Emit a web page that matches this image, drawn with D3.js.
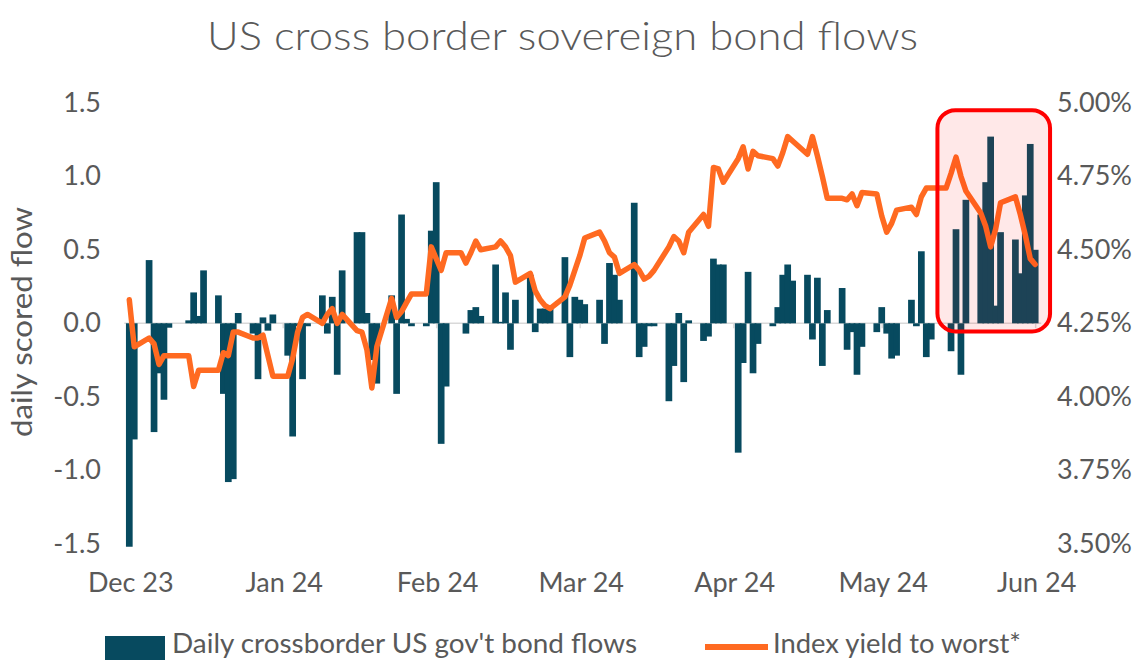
<!DOCTYPE html>
<html>
<head>
<meta charset="utf-8">
<script src="https://cdn.jsdelivr.net/npm/d3@7"></script>
<style>
  body { margin: 0; background: #fff; }
  svg text { font-family: Lato, "Open Sans", sans-serif; }
</style>
</head>
<body>
<div id="chart"></div>
<script>
// business days, daily scored flow (left axis) and index yield to worst in % (right axis)
const flowDates = [
  "2023-11-30", "2023-12-01", "2023-12-04", "2023-12-05", "2023-12-06", "2023-12-07", "2023-12-08",
  "2023-12-11", "2023-12-12", "2023-12-13", "2023-12-14", "2023-12-15",
  "2023-12-18", "2023-12-19", "2023-12-20", "2023-12-21", "2023-12-22",
  "2023-12-25", "2023-12-26", "2023-12-27", "2023-12-28", "2023-12-29",
  "2024-01-01", "2024-01-02", "2024-01-03", "2024-01-04", "2024-01-05",
  "2024-01-08", "2024-01-09", "2024-01-10", "2024-01-11", "2024-01-12",
  "2024-01-15", "2024-01-16", "2024-01-17", "2024-01-18", "2024-01-19",
  "2024-01-22", "2024-01-23", "2024-01-24", "2024-01-25", "2024-01-26",
  "2024-01-29", "2024-01-30", "2024-01-31", "2024-02-01", "2024-02-02",
  "2024-02-05", "2024-02-06", "2024-02-07", "2024-02-08", "2024-02-09",
  "2024-02-12", "2024-02-13", "2024-02-14", "2024-02-15", "2024-02-16",
  "2024-02-19", "2024-02-20", "2024-02-21", "2024-02-22", "2024-02-23",
  "2024-02-26", "2024-02-27", "2024-02-28", "2024-02-29", "2024-03-01",
  "2024-03-04", "2024-03-05", "2024-03-06", "2024-03-07", "2024-03-08",
  "2024-03-11", "2024-03-12", "2024-03-13", "2024-03-14", "2024-03-15",
  "2024-03-18", "2024-03-19", "2024-03-20", "2024-03-21", "2024-03-22",
  "2024-03-25", "2024-03-26", "2024-03-27", "2024-03-28", "2024-03-29",
  "2024-04-01", "2024-04-02", "2024-04-03", "2024-04-04", "2024-04-05",
  "2024-04-08", "2024-04-09", "2024-04-10", "2024-04-11", "2024-04-12",
  "2024-04-15", "2024-04-16", "2024-04-17", "2024-04-18", "2024-04-19",
  "2024-04-22", "2024-04-23", "2024-04-24", "2024-04-25", "2024-04-26",
  "2024-04-29", "2024-04-30", "2024-05-01", "2024-05-02", "2024-05-03",
  "2024-05-06", "2024-05-07", "2024-05-08", "2024-05-09", "2024-05-10",
  "2024-05-13", "2024-05-14", "2024-05-15", "2024-05-16", "2024-05-17",
  "2024-05-20", "2024-05-21", "2024-05-22", "2024-05-23", "2024-05-24",
  "2024-05-27", "2024-05-28", "2024-05-29", "2024-05-30", "2024-05-31"
];

const flowValues = [
  -1.52, -0.79, 0.43, -0.74, -0.34, -0.52, -0.03,
  0.00, 0.02, 0.21, 0.05, 0.36,
  0.19, -0.48, -1.08, -1.06, 0.07,
  -0.07, -0.38, 0.04, -0.05, 0.06,
  -0.22, -0.77, -0.02, -0.38, -0.02,
  0.19, -0.07, 0.18, -0.35, 0.36,
  0.62, 0.62, 0.07, -0.25, -0.41,
  0.19, -0.48, 0.74, 0.03, -0.02,
  -0.02, 0.63, 0.96, -0.82, -0.43,
  0.00, -0.07, 0.09, 0.11, 0.05,
  0.40, 0.01, 0.21, -0.18, 0.16,
  0.33, -0.06, 0.10, 0.10, 0.10,
  0.45, -0.23, 0.18, 0.16, 0.13,
  0.16, -0.14, 0.41, 0.33, 0.16,
  0.82, -0.23, -0.16, -0.02, -0.02,
  -0.53, -0.29, 0.07, -0.40, 0.02,
  -0.12, -0.09, 0.44, 0.40, 0.40,
  -0.88, -0.27, 0.35, -0.34, -0.14,
  -0.02, 0.11, 0.33, 0.40, 0.29,
  0.33, -0.11, 0.31, -0.29, 0.09,
  0.24, -0.18, -0.06, -0.35, -0.16,
  -0.06, 0.11, -0.07, -0.24, -0.22,
  0.16, -0.02, 0.49, -0.23, -0.11,
  0.00, -0.19, 0.64, -0.35, 0.84,
  0.74, 0.96, 1.27, 0.12, 0.62,
  0.57, 0.34, 0.87, 1.22, 0.50
];

const yieldValues = [
  4.33, 4.17, 4.20, 4.18, 4.11, 4.14, 4.14,
  4.14, 4.14, 4.035, 4.09, 4.09,
  4.09, 4.15, 4.14, 4.22, 4.22,
  4.20, 4.20, 4.21, 4.14, 4.07,
  4.07, 4.13, 4.22, 4.27, 4.28,
  4.25, 4.28, 4.30, 4.25, 4.28,
  4.225, 4.22, 4.16, 4.03, 4.17,
  4.335, 4.27, 4.29, 4.32, 4.35,
  4.35, 4.51, 4.47, 4.43, 4.49,
  4.49, 4.455, 4.49, 4.53, 4.50,
  4.51, 4.53, 4.51, 4.48, 4.39,
  4.42, 4.36, 4.33, 4.31, 4.30,
  4.34, 4.38, 4.43, 4.48, 4.54,
  4.56, 4.53, 4.49, 4.475, 4.42,
  4.45, 4.43, 4.40, 4.41, 4.43,
  4.51, 4.545, 4.53, 4.49, 4.56,
  4.62, 4.58, 4.78, 4.775, 4.73,
  4.81, 4.85, 4.775, 4.835, 4.82,
  4.81, 4.785, 4.83, 4.885, 4.87,
  4.825, 4.885, 4.82, 4.75, 4.675,
  4.675, 4.67, 4.69, 4.65, 4.695,
  4.69, 4.615, 4.56, 4.59, 4.635,
  4.645, 4.62, 4.68, 4.71, 4.71,
  4.71, 4.76, 4.815, 4.75, 4.70,
  4.625, 4.58, 4.51, 4.57, 4.66,
  4.68, 4.62, 4.55, 4.47, 4.45
];

const leftTicks = [-1.5, -1.0, -0.5, 0.0, 0.5, 1.0, 1.5];
const rightTicks = [3.50, 3.75, 4.00, 4.25, 4.50, 4.75, 5.00];
const monthTicks = ["2023-12-01", "2024-01-01", "2024-02-01", "2024-03-01", "2024-04-01", "2024-05-01", "2024-06-01"];

// the boxed period at the end of May
const highlightDates = ["2024-05-11T06:00", "2024-06-03T00:00"];
const highlightFlows = [-0.055, 1.45];

const barColor = "#074a5f";
const lineColor = "#ff6a21";
const textColor = "#595959";
const labelSize = 27;

const width = 1143, height = 660;
const parseDate = d3.timeParse("%Y-%m-%d");
const parseTime = d3.timeParse("%Y-%m-%dT%H:%M");

const data = flowDates.map((d, i) => ({
  date: parseDate(d),
  flow: flowValues[i],
  yld: yieldValues[i]
}));

const svg = d3.select("#chart")
  .append("svg")
  .attr("width", width)
  .attr("height", height);

// scales: one calendar day is about 5px, both value axes share the same pixel range
const x = d3.scaleTime()
  .domain([data[0].date, data[data.length - 1].date])
  .range([129.3, 1035.2]);
const yL = d3.scaleLinear().domain([-1.5, 1.5]).range([543.8, 102.8]);
const yR = d3.scaleLinear().domain([3.5, 5.0]).range([543.8, 102.8]);

// excel puts the month ticks about a day to the left of the bar centres
const tickShift = -5;

// title
svg.append("text")
  .attr("x", 562.5)
  .attr("y", 50)
  .attr("text-anchor", "middle")
  .attr("font-size", 39)
  .attr("font-weight", 300)
  .attr("fill", textColor)
  .attr("textLength", 711)
  .attr("lengthAdjust", "spacingAndGlyphs")
  .text("US cross border sovereign bond flows");

// left axis title
svg.append("text")
  .attr("transform", "translate(32,322) rotate(-90)")
  .attr("text-anchor", "middle")
  .attr("font-size", 29)
  .attr("fill", textColor)
  .attr("textLength", 230)
  .attr("lengthAdjust", "spacingAndGlyphs")
  .text("daily scored flow");

// zero line with month tick marks
const zeroAxis = svg.append("g")
  .attr("transform", "translate(" + tickShift + "," + yL(0) + ")")
  .call(d3.axisBottom(x)
    .tickValues(monthTicks.map(parseDate))
    .tickFormat("")
    .tickSize(5)
    .tickSizeOuter(0));
zeroAxis.select(".domain").remove();
zeroAxis.selectAll(".tick line").attr("stroke", "#d9d9d9").attr("stroke-width", 1.5);

svg.append("line")
  .attr("x1", x(data[0].date) + tickShift)
  .attr("x2", x(data[data.length - 1].date) + 6)
  .attr("y1", yL(0))
  .attr("y2", yL(0))
  .attr("stroke", "#d9d9d9")
  .attr("stroke-width", 1.5);

// bars, drawn in date order so later days sit over earlier ones
svg.append("g")
  .selectAll("rect")
  .data(data)
  .join("rect")
  .attr("x", d => x(d.date) - 3.35)
  .attr("width", 6.7)
  .attr("y", d => yL(Math.max(0, d.flow)))
  .attr("height", d => Math.abs(yL(d.flow) - yL(0)))
  .attr("fill", barColor);

// yield line
const line = d3.line()
  .x(d => x(d.date))
  .y(d => yR(d.yld));

svg.append("path")
  .datum(data)
  .attr("d", line)
  .attr("fill", "none")
  .attr("stroke", lineColor)
  .attr("stroke-width", 5.5)
  .attr("stroke-linejoin", "round")
  .attr("stroke-linecap", "round");

// month labels at the bottom of the plot
const xLabels = svg.append("g")
  .attr("transform", "translate(" + (tickShift + 1) + ",573)")
  .call(d3.axisBottom(x)
    .tickValues(monthTicks.map(parseDate))
    .tickFormat(d3.timeFormat("%b %y"))
    .tickSize(0)
    .tickPadding(0));
xLabels.select(".domain").remove();

// left and right value labels
const leftAxis = svg.append("g")
  .attr("transform", "translate(101,0)")
  .call(d3.axisLeft(yL)
    .tickValues(leftTicks)
    .tickFormat(d => d.toFixed(1))
    .tickSize(0)
    .tickPadding(0));
leftAxis.select(".domain").remove();

const rightAxis = svg.append("g")
  .attr("transform", "translate(1057,0)")
  .call(d3.axisRight(yR)
    .tickValues(rightTicks)
    .tickFormat(d => d.toFixed(2) + "%")
    .tickSize(0)
    .tickPadding(0));
rightAxis.select(".domain").remove();

[xLabels, leftAxis, rightAxis].forEach(g => {
  g.attr("font-family", null)
    .attr("font-size", labelSize)
    .attr("color", textColor);
});

// red box round the last weeks
const hx0 = x(parseTime(highlightDates[0]));
const hx1 = x(parseTime(highlightDates[1]));
svg.append("rect")
  .attr("x", hx0)
  .attr("y", yL(highlightFlows[1]))
  .attr("width", hx1 - hx0)
  .attr("height", yL(highlightFlows[0]) - yL(highlightFlows[1]))
  .attr("rx", 18)
  .attr("ry", 18)
  .attr("fill", "rgba(255,0,0,0.09)")
  .attr("stroke", "#ff0000")
  .attr("stroke-width", 4);

// legend, kept just inside the bottom edge
const legend = svg.append("g");
legend.append("rect")
  .attr("x", 105)
  .attr("y", 636)
  .attr("width", 60)
  .attr("height", 26)
  .attr("fill", barColor);
legend.append("text")
  .attr("x", 172)
  .attr("y", 653)
  .attr("font-size", 26)
  .attr("fill", textColor)
  .attr("textLength", 465)
  .attr("lengthAdjust", "spacingAndGlyphs")
  .text("Daily crossborder US gov't bond flows");
legend.append("line")
  .attr("x1", 705)
  .attr("x2", 768)
  .attr("y1", 647)
  .attr("y2", 647)
  .attr("stroke", lineColor)
  .attr("stroke-width", 6);
legend.append("text")
  .attr("x", 773)
  .attr("y", 653)
  .attr("font-size", 26)
  .attr("fill", textColor)
  .attr("textLength", 248)
  .attr("lengthAdjust", "spacingAndGlyphs")
  .text("Index yield to worst*");
</script>
</body>
</html>
